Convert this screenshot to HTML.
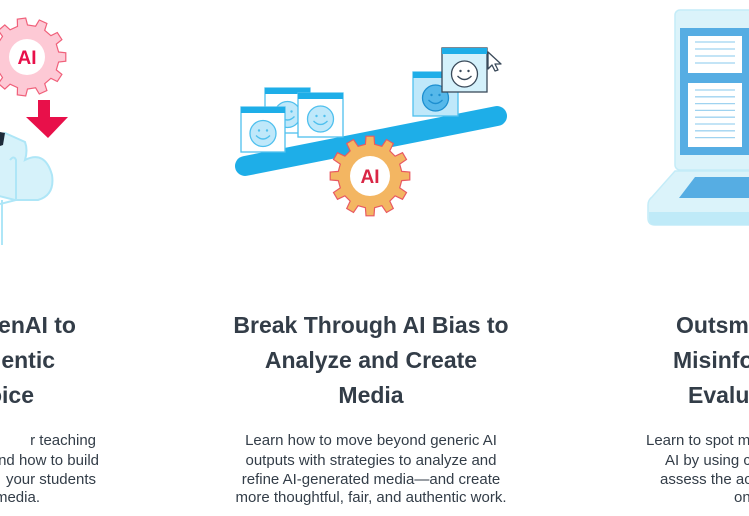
<!DOCTYPE html>
<html><head><meta charset="utf-8"><style>
html,body{margin:0;padding:0;background:#fff;width:749px;height:516px;overflow:hidden}
svg{display:block}
.h{font-family:"Liberation Sans",Arial,sans-serif;font-weight:bold;font-size:23px;fill:#333d48}
.b{font-family:"Liberation Sans",Arial,sans-serif;font-size:15px;fill:#333d48}
</style></head><body>
<svg id="s" width="749" height="516" viewBox="0 0 749 516" xmlns="http://www.w3.org/2000/svg">
<g stroke="#aee6f7" stroke-width="2" fill="#d6f2fa">
 <path d="M-5 135 L5 133 L25 142 Q28 150 25 160 Q45 150 52 175 Q55 195 38 200 L15 200 L-5 195 Z"/>
 <path d="M10 160 Q14 155 16 160 L16 200 L0 204" fill="none"/>
 <path d="M2 200 L2 245" fill="none"/>
</g>
<path d="M0 132 L5 133 L3 145 L0 146Z" fill="#1d2b3a"/>
<path id="g1" fill="#fdc9d5" stroke="#f0607a" stroke-width="1.2"/>
<circle cx="27" cy="57" r="18" fill="#fff"/>
<text x="27" y="64" text-anchor="middle" font-family="Liberation Sans,sans-serif" font-weight="bold" font-size="19" fill="#e8104a">AI</text>
<path d="M38 100 L50 100 L50 117 L68 117 L48 138 L26 117 L38 117Z" fill="#e8104a"/>
<line x1="245" y1="166" x2="497" y2="116" stroke="#1eaee8" stroke-width="20" stroke-linecap="round"/>
<g id="cards"></g>
<path id="g2" fill="#f3b662" stroke="#e85a62" stroke-width="1.2"/>
<circle cx="370" cy="176" r="20" fill="#fff"/>
<text x="370" y="183" text-anchor="middle" font-family="Liberation Sans,sans-serif" font-weight="bold" font-size="19" fill="#d92645">AI</text>
<path d="M488 52 L488 69 L492 65 L495 71 L498 70 L495 64 L501 64Z" fill="#fff" stroke="#3a4a5a" stroke-width="1.3" stroke-linejoin="round"/>
<rect x="675" y="10" width="90" height="160" rx="5" fill="#dbf3fa" stroke="#c4ecf8" stroke-width="1.5"/>
<rect x="680" y="28" width="80" height="127" fill="#56ade3"/>
<rect x="688" y="36" width="54" height="37" fill="#fff"/>
<rect x="688" y="83" width="54" height="64" fill="#fff"/>
<g stroke="#9fd3f0" stroke-width="1.3" id="lines"></g>
<path d="M675 171 L760 171 L760 225 L655 225 Q648 225 648 218 L648 205 Q648 200 652 197Z" fill="#dbf3fa" stroke="#c4ecf8" stroke-width="1.5"/>
<path d="M649 212 L760 212 L760 225 L655 225 Q649 225 649 218Z" fill="#bfeaf8"/>
<path d="M695 177 L760 177 L760 198 L679 198Z" fill="#56ade3"/>
<g class="h" text-anchor="middle">
<text x="371" y="333">Break Through AI Bias to</text>
<text x="371" y="368">Analyze and Create</text>
<text x="371" y="403">Media</text>
</g>
<g class="h" text-anchor="end">
<text x="76" y="333">enAI to</text>
<text x="55" y="368">entic</text>
<text x="34" y="403">oice</text>
</g>
<g class="h">
<text x="676" y="333">Outsm</text>
<text x="673" y="368">Misinfo</text>
<text x="688" y="403">Evalu</text>
</g>
<g class="b" text-anchor="middle">
<text x="371" y="445">Learn how to move beyond generic AI</text>
<text x="371" y="465">outputs with strategies to analyze and</text>
<text x="371" y="484">refine AI-generated media—and create</text>
<text x="371" y="502">more thoughtful, fair, and authentic work.</text>
</g>
<g class="b" text-anchor="end">
<text x="96" y="445">r teaching</text>
<text x="99" y="465">nd how to build</text>
<text x="96" y="484">your students</text>
<text x="40" y="502">media.</text>
</g>
<g class="b">
<text x="646" y="445">Learn to spot m</text>
<text x="665" y="465">AI by using c</text>
<text x="660" y="484">assess the ac</text>
<text x="734" y="502">on</text>
</g>
</svg>
<script>
function gear(cx,cy,ro,ri,n){var d="";for(var i=0;i<n;i++){var a=i*2*Math.PI/n,w=Math.PI/n;var pts=[[ri,a-w*0.55],[ro,a-w*0.38],[ro,a+w*0.38],[ri,a+w*0.55],[ri,a+w*1.45]];pts.forEach(function(p,j){var x=cx+p[0]*Math.cos(p[1]),y=cy+p[0]*Math.sin(p[1]);d+=(i==0&&j==0?"M":"L")+x.toFixed(1)+" "+y.toFixed(1)+" ";});}return d+"Z";}
document.getElementById("g1").setAttribute("d",gear(27,57,39,32,11));
document.getElementById("g2").setAttribute("d",gear(370,176,40,32,12));
var ns="http://www.w3.org/2000/svg",C=document.getElementById("cards");
function card(x,y,w,h,fill,st,face,fs){var g=document.createElementNS(ns,"g");
g.innerHTML='<rect x="'+x+'" y="'+y+'" width="'+w+'" height="'+h+'" fill="'+fill+'" stroke="'+st+'" stroke-width="1.3"/><rect x="'+x+'" y="'+y+'" width="'+w+'" height="6" fill="#1eaee8"/>'+
'<circle cx="'+(x+w/2)+'" cy="'+(y+h/2+4)+'" r="13" fill="'+face+'" stroke="'+fs+'" stroke-width="1.3"/><circle cx="'+(x+w/2-4)+'" cy="'+(y+h/2+1)+'" r="1.2" fill="'+fs+'"/><circle cx="'+(x+w/2+4)+'" cy="'+(y+h/2+1)+'" r="1.2" fill="'+fs+'"/><path d="M'+(x+w/2-7)+' '+(y+h/2+6)+' Q'+(x+w/2)+' '+(y+h/2+13)+' '+(x+w/2+7)+' '+(y+h/2+6)+'" fill="none" stroke="'+fs+'" stroke-width="1.3"/>';C.appendChild(g);}
card(265,88,45,45,"#fff","#4fc0ee","#bfe8fa","#4fc0ee");
card(298,93,45,44,"#fff","#4fc0ee","#bfe8fa","#4fc0ee");
card(241,107,44,45,"#fff","#4fc0ee","#bfe8fa","#4fc0ee");
card(413,72,45,44,"#bfe8fa","#4fc0ee","#56b8ea","#1d8fd0");
card(442,48,45,44,"#d4f1fb","#3a4a5a","#fff","#3a4a5a");
var L=document.getElementById("lines"),s="";
[42,49,56,63].forEach(function(y){s+='<line x1="695" x2="735" y1="'+y+'" y2="'+y+'"/>';});
for(var y=90;y<142;y+=6.8)s+='<line x1="695" x2="735" y1="'+y.toFixed(1)+'" y2="'+y.toFixed(1)+'"/>';
L.innerHTML=s;
</script>
</body></html>
